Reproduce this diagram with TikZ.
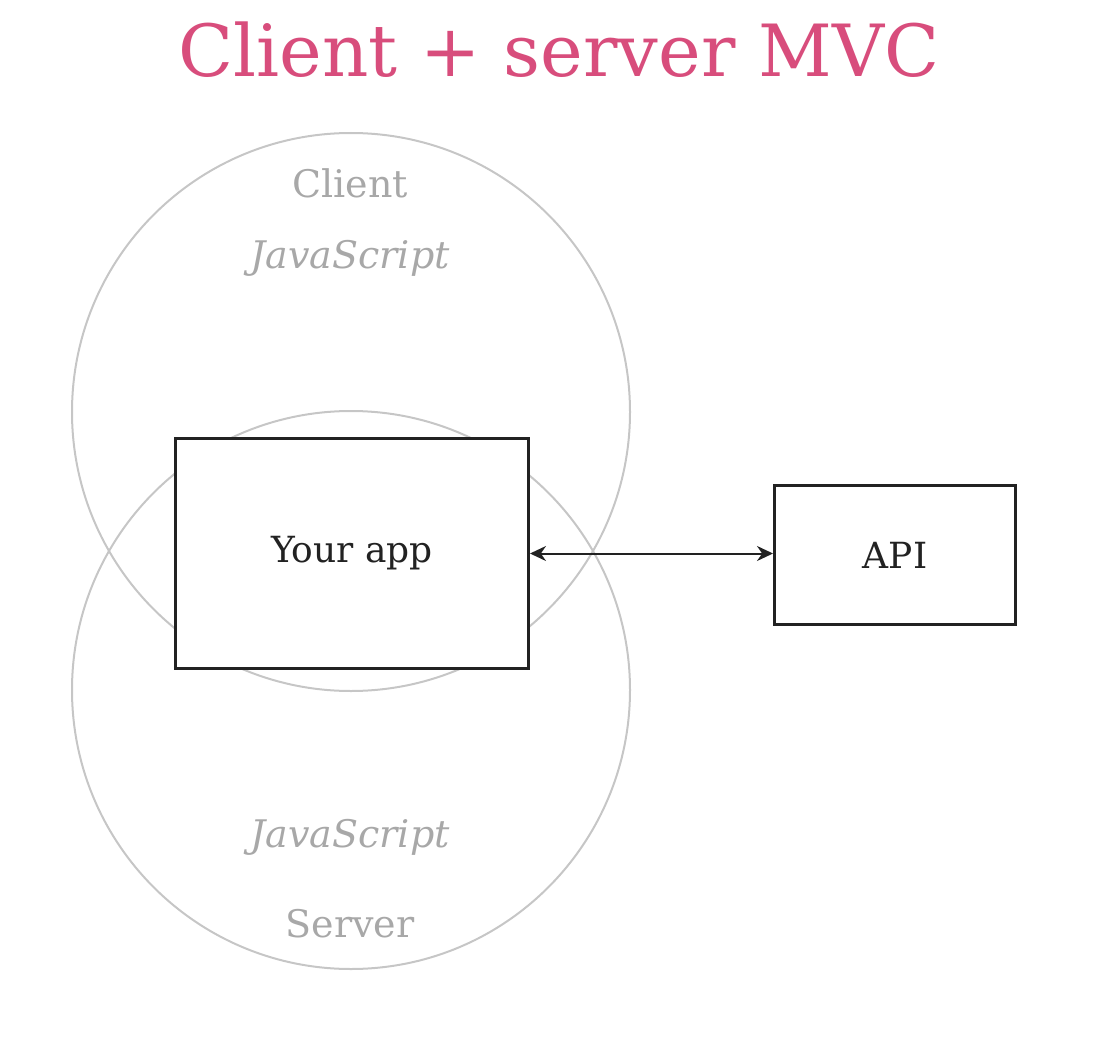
\documentclass[tikz,border=0pt]{standalone}
\usepackage{fontspec}
\setmainfont{DejaVu Serif}
\usetikzlibrary{arrows.meta}
\definecolor{titlepink}{HTML}{D84D7C}
\definecolor{circgray}{HTML}{C6C6C6}
\definecolor{txtgray}{HTML}{A8A8A8}
\definecolor{boxblack}{HTML}{222222}
\tikzset{
  ring/.style={draw=circgray, line width=2pt},
  boxnode/.style={draw=boxblack, line width=3pt, fill=white, inner sep=0pt, anchor=north west},
  graylabel/.style={text=txtgray, font=\fontsize{38}{44}\selectfont},
  boxlabel/.style={text=boxblack, font=\fontsize{36}{42}\selectfont},
  link/.style={draw=boxblack, line width=2pt, {Stealth[length=16pt,width=15pt]}-{Stealth[length=16pt,width=15pt]}}
}
\begin{document}
\begin{tikzpicture}[x=1pt,y=-1pt]
\useasboundingbox (0,0) rectangle (1098,1038);
\node[text=titlepink, font=\fontsize{72}{80}\selectfont] (title) at (559,50) {Client + server MVC};
\node[ring, circle, minimum size=558pt, inner sep=0pt] (client) at (351,412) {};
\node[ring, circle, minimum size=558pt, inner sep=0pt] (server) at (351,690) {};
\node[graylabel] (clabel) at (350,183) {Client};
\node[graylabel] (cjs) at (350,258) {\itshape JavaScript};
\node[graylabel] (sjs) at (350,837) {\itshape JavaScript};
\node[graylabel] (slabel) at (350,924) {Server};
\node[boxnode, minimum width=353pt, minimum height=230pt] (app) at (174,437) {};
\node[boxlabel] (applabel) at (app.center) {Your app};
\node[boxnode, minimum width=241pt, minimum height=139pt] (api) at (773,484) {};
\node[boxlabel] (apilabel) at (api.center) {API};
\draw[link] (app.east) -- (app.east -| api.west);
\end{tikzpicture}
\end{document}
